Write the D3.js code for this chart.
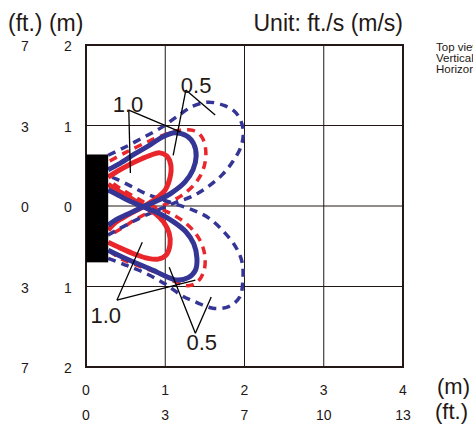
<!DOCTYPE html>
<html>
<head>
<meta charset="utf-8">
<script src="https://cdn.jsdelivr.net/npm/d3@7/dist/d3.min.js"></script>
<style>
    body { margin: 0; background: #fff; }
    svg { display: block; font-family: "Liberation Sans", Arial, sans-serif; }
</style>
</head>
<body>
<div id="chart"></div>
<script>
// axis ticks
const xTicksM = [0, 1, 2, 3, 4];
const xTicksFt = ["0", "3", "7", "10", "13"];
const yTicksM = [2, 1, 0, -1, -2];
const yTicksMLabel = ["2", "1", "0", "1", "2"];
const yTicksFt = ["7", "3", "0", "3", "7"];

// unit box (m): x0, x1, y0, y1
const unitBox = [0, 0.28, -0.7, 0.64];

// air velocity contours, [x (m), y (m)], one array per lobe
const red10Upper = [[0.28,0.36],[0.43,0.45],[0.62,0.55],[0.81,0.63],[0.93,0.66],[1.02,0.62],[1.07,0.51],[1.06,0.35],[1.00,0.20],[0.88,0.09],[0.72,-0.01],[0.53,-0.11],[0.38,-0.20],[0.28,-0.30]];
const red10Lower = [[0.28,-0.45],[0.43,-0.52],[0.62,-0.60],[0.78,-0.65],[0.91,-0.66],[1.01,-0.61],[1.06,-0.48],[1.05,-0.34],[0.98,-0.20],[0.87,-0.09],[0.72,0.00],[0.56,0.10],[0.40,0.19],[0.28,0.27]];
const blue10Upper = [[0.28,0.45],[0.43,0.53],[0.62,0.65],[0.81,0.76],[0.97,0.86],[1.12,0.91],[1.27,0.87],[1.36,0.77],[1.39,0.62],[1.35,0.45],[1.25,0.30],[1.09,0.17],[0.91,0.07],[0.72,-0.01],[0.53,-0.10],[0.38,-0.17],[0.28,-0.24]];
const blue10Lower = [[0.28,-0.55],[0.45,-0.63],[0.66,-0.72],[0.85,-0.80],[1.00,-0.87],[1.15,-0.92],[1.29,-0.89],[1.38,-0.80],[1.40,-0.65],[1.36,-0.47],[1.26,-0.32],[1.11,-0.20],[0.92,-0.09],[0.72,-0.01],[0.53,0.07],[0.38,0.15],[0.28,0.20]];
const red05Upper = [[0.30,0.56],[0.49,0.66],[0.74,0.78],[1.00,0.89],[1.19,0.94],[1.35,0.94],[1.46,0.86],[1.51,0.70],[1.50,0.53],[1.44,0.37],[1.34,0.24],[1.19,0.12],[1.00,0.02],[0.81,-0.07],[0.62,-0.17],[0.43,-0.29],[0.28,-0.37]];
const red05Lower = [[0.30,-0.56],[0.43,-0.65],[0.68,-0.75],[0.93,-0.84],[1.12,-0.94],[1.29,-0.99],[1.41,-0.94],[1.49,-0.80],[1.50,-0.62],[1.45,-0.45],[1.35,-0.30],[1.20,-0.17],[1.02,-0.07],[0.81,0.01],[0.62,0.11],[0.43,0.22],[0.28,0.32]];
const blue05Upper = [[0.28,0.63],[0.49,0.73],[0.74,0.86],[0.96,0.98],[1.16,1.12],[1.35,1.24],[1.54,1.29],[1.74,1.25],[1.89,1.16],[1.98,0.97],[1.96,0.75],[1.85,0.55],[1.72,0.39],[1.54,0.24],[1.34,0.12],[1.12,0.04],[0.93,-0.04],[0.74,-0.12],[0.56,-0.21],[0.37,-0.31],[0.28,-0.36]];
const blue05Lower = [[0.28,-0.65],[0.49,-0.73],[0.74,-0.83],[1.00,-0.97],[1.22,-1.12],[1.40,-1.20],[1.60,-1.27],[1.80,-1.25],[1.94,-1.13],[1.98,-0.91],[1.97,-0.70],[1.89,-0.51],[1.73,-0.31],[1.55,-0.15],[1.35,-0.05],[1.14,0.02],[0.93,0.09],[0.74,0.16],[0.56,0.25],[0.37,0.34],[0.28,0.37]];

// callouts: text, text anchor point, leader origin, leader targets (m)
const calloutText = ["1.0", "0.5", "1.0", "0.5"];
const calloutPos = [[0.53, 1.17], [1.39, 1.40], [0.25, -1.45], [1.46, -1.79]];
const calloutFrom = [[0.54, 1.19], [1.26, 1.44], [0.39, -1.17], [1.38, -1.58]];
const calloutTo = [
    [[0.56, 0.41], [1.19, 0.92]],
    [[1.10, 0.63], [1.63, 1.13]],
    [[0.71, -0.45], [1.38, -0.92]],
    [[1.05, -0.76], [1.58, -1.13]]
];

const sideNotes = ["Top view", "Vertical", "Horizontal"];

const RED = "#e8262b";
const BLUE = "#343594";
const INK = "#231815";

const width = 473, height = 427;

const svg = d3.select("#chart")
    .append("svg")
    .attr("width", width)
    .attr("height", height);

const x = d3.scaleLinear().domain([0, 4]).range([86, 403]);
const y = d3.scaleLinear().domain([-2, 2]).range([367, 45]);

// grid
const grid = svg.append("g");
grid.selectAll(".vline")
    .data(xTicksM.slice(1, -1))
    .enter()
    .append("line")
    .attr("x1", d => x(d)).attr("x2", d => x(d))
    .attr("y1", y(2)).attr("y2", y(-2))
    .attr("stroke", INK).attr("stroke-width", 1);
grid.selectAll(".hline")
    .data(yTicksM.slice(1, -1))
    .enter()
    .append("line")
    .attr("x1", x(0)).attr("x2", x(4))
    .attr("y1", d => y(d)).attr("y2", d => y(d))
    .attr("stroke", INK).attr("stroke-width", 1);

// contours
const line = d3.line()
    .x(d => x(d[0]))
    .y(d => y(d[1]))
    .curve(d3.curveCatmullRom.alpha(0.5));

const series = [
    { lobes: [red05Upper, red05Lower], color: RED, dashed: true },
    { lobes: [blue05Upper, blue05Lower], color: BLUE, dashed: true },
    { lobes: [red10Upper, red10Lower], color: RED, dashed: false },
    { lobes: [blue10Upper, blue10Lower], color: BLUE, dashed: false }
];

series.forEach(s => {
    svg.append("g")
        .selectAll("path")
        .data(s.lobes)
        .enter()
        .append("path")
        .attr("d", line)
        .attr("fill", "none")
        .attr("stroke", s.color)
        .attr("stroke-width", s.dashed ? 3.5 : 5)
        .attr("stroke-dasharray", s.dashed ? "8,6" : null)
        .attr("stroke-linejoin", "round");
});

// frame
svg.append("rect")
    .attr("x", x(0)).attr("y", y(2))
    .attr("width", x(4) - x(0)).attr("height", y(-2) - y(2))
    .attr("fill", "none")
    .attr("stroke", INK)
    .attr("stroke-width", 2);

// unit
svg.append("rect")
    .attr("x", x(unitBox[0]))
    .attr("y", y(unitBox[3]))
    .attr("width", x(unitBox[1]) - x(unitBox[0]))
    .attr("height", y(unitBox[2]) - y(unitBox[3]))
    .attr("fill", "#000");

// callouts
const callouts = svg.append("g");
calloutText.forEach((t, i) => {
    calloutTo[i].forEach(p => {
        callouts.append("line")
            .attr("x1", x(calloutFrom[i][0])).attr("y1", y(calloutFrom[i][1]))
            .attr("x2", x(p[0])).attr("y2", y(p[1]))
            .attr("stroke", "#000")
            .attr("stroke-width", 1.3);
    });
    callouts.append("text")
        .attr("x", x(calloutPos[i][0]))
        .attr("y", y(calloutPos[i][1]))
        .attr("text-anchor", "middle")
        .attr("font-size", 22)
        .attr("fill", INK)
        .text(t);
});

// axis labels
const yLab = svg.append("g").attr("font-size", 14).attr("fill", INK).attr("text-anchor", "middle");
yTicksM.forEach((v, i) => {
    yLab.append("text").attr("x", 68).attr("y", y(v) + 1).attr("dy", "0.36em").text(yTicksMLabel[i]);
    yLab.append("text").attr("x", 25).attr("y", y(v) + 1).attr("dy", "0.36em").text(yTicksFt[i]);
});

const xLab = svg.append("g").attr("font-size", 14).attr("fill", INK).attr("text-anchor", "middle");
xTicksM.forEach((v, i) => {
    xLab.append("text").attr("x", x(v)).attr("y", 395).text(v);
    xLab.append("text").attr("x", x(v)).attr("y", 420).text(xTicksFt[i]);
});

svg.append("text").attr("x", 437).attr("y", 394).attr("font-size", 22).attr("fill", INK).text("(m)");
svg.append("text").attr("x", 435).attr("y", 419).attr("font-size", 22).attr("fill", INK).text("(ft.)");

// header
svg.append("text").attr("x", 8).attr("y", 31).attr("font-size", 23).attr("fill", INK).text("(ft.) (m)");
svg.append("text").attr("x", 403).attr("y", 31).attr("font-size", 23).attr("fill", INK)
    .attr("text-anchor", "end").text("Unit: ft./s (m/s)");

// side notes run off the right edge, as in the source
svg.append("g")
    .selectAll("text")
    .data(sideNotes)
    .enter()
    .append("text")
    .attr("x", 436)
    .attr("y", (d, i) => 51 + i * 11)
    .attr("font-size", 11.5)
    .attr("fill", INK)
    .text(d => d);
</script>
</body>
</html>
